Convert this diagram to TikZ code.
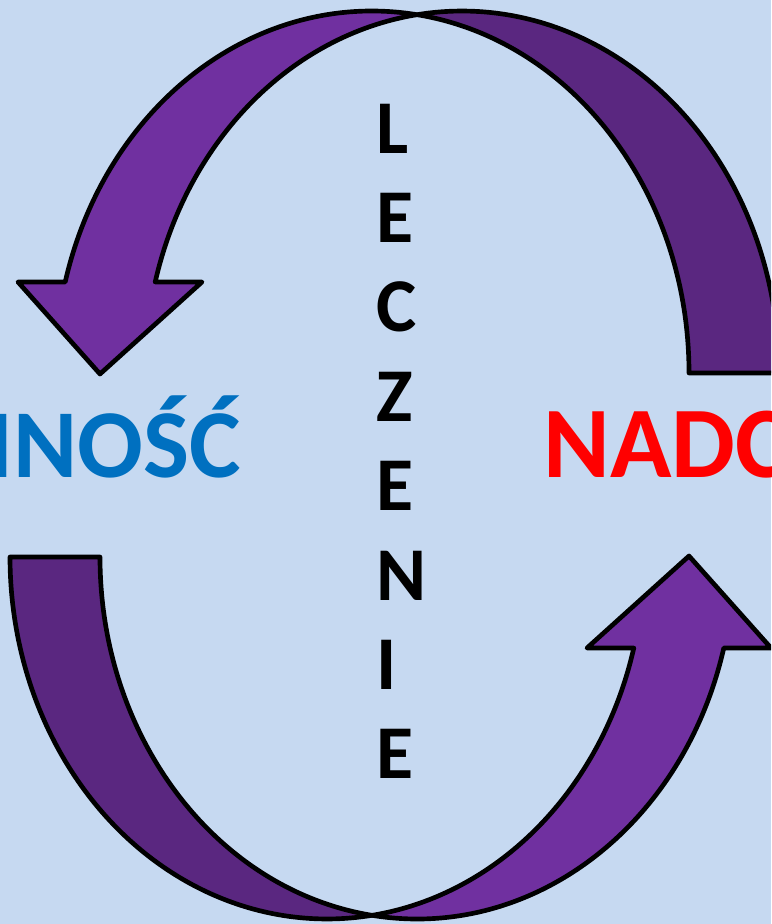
\documentclass[tikz,border=0pt]{standalone}
\usepackage{fontspec}
\setmainfont{Carlito}
\definecolor{bgblue}{HTML}{C6D9F1}
\definecolor{arrowlight}{HTML}{7030A0}
\definecolor{arrowdark}{HTML}{5A2780}
\definecolor{txtblue}{HTML}{0070C0}
\definecolor{txtred}{HTML}{FF0000}
\begin{document}
\begin{tikzpicture}[x=0.75pt,y=-0.75pt,
  band/.style={draw=black, line width=3.5pt, line join=round},
  bigtxt/.style={inner sep=0pt, font=\fontsize{76}{90}\selectfont\bfseries},
  bluetxt/.style={inner sep=0pt, font=\fontsize{73}{88}\selectfont\bfseries},
  vlet/.style={inner sep=0pt, anchor=base west, text=black, font=\fontsize{57}{68}\selectfont\bfseries}]
\fill[bgblue] (0,0) rectangle (771,924);
\useasboundingbox (0,0) rectangle (771,924);
\begin{scope}
\clip (0,0) rectangle (771,924);
\foreach \rot in {0,180} {
  \begin{scope}[rotate around={\rot:(394.5,465)}]
    % back (dark) part of the curved arrow
    \path[band, fill=arrowdark] (417,14.7)
      arc[start angle=-98.16, end angle=0, x radius=317, y radius=362]
      -- (689,373)
      arc[start angle=0, end angle=-81.84, x radius=317, y radius=362]
      -- cycle;
    % front (light) part with the arrow head
    \path[band, fill=arrowlight] (417,14.7)
      arc[start angle=-81.84, end angle=-165.44, x radius=317, y radius=362]
      -- (18,282) -- (100,374) -- (202,282) -- (155.2,282)
      arc[start angle=-165.44, end angle=-98.16, x radius=317, y radius=362]
      -- cycle;
  \end{scope}
}
\node[bluetxt, text=txtblue, anchor=base east] (lefttxt) at (241,477) {INOŚĆ};
\node[bigtxt, text=txtred, anchor=base west] (righttxt) at (543,477) {NADC};
\end{scope}
\node[vlet] (v1) at (376,153) {L};
\node[vlet] (v2) at (376,242.4) {E};
\node[vlet] (v3) at (376,331.8) {C};
\node[vlet] (v4) at (376,421.2) {Z};
\node[vlet] (v5) at (376,510.6) {E};
\node[vlet] (v6) at (376,600) {N};
\node[vlet] (v7) at (376,689.4) {I};
\node[vlet] (v8) at (376,778.8) {E};
\end{tikzpicture}
\end{document}
